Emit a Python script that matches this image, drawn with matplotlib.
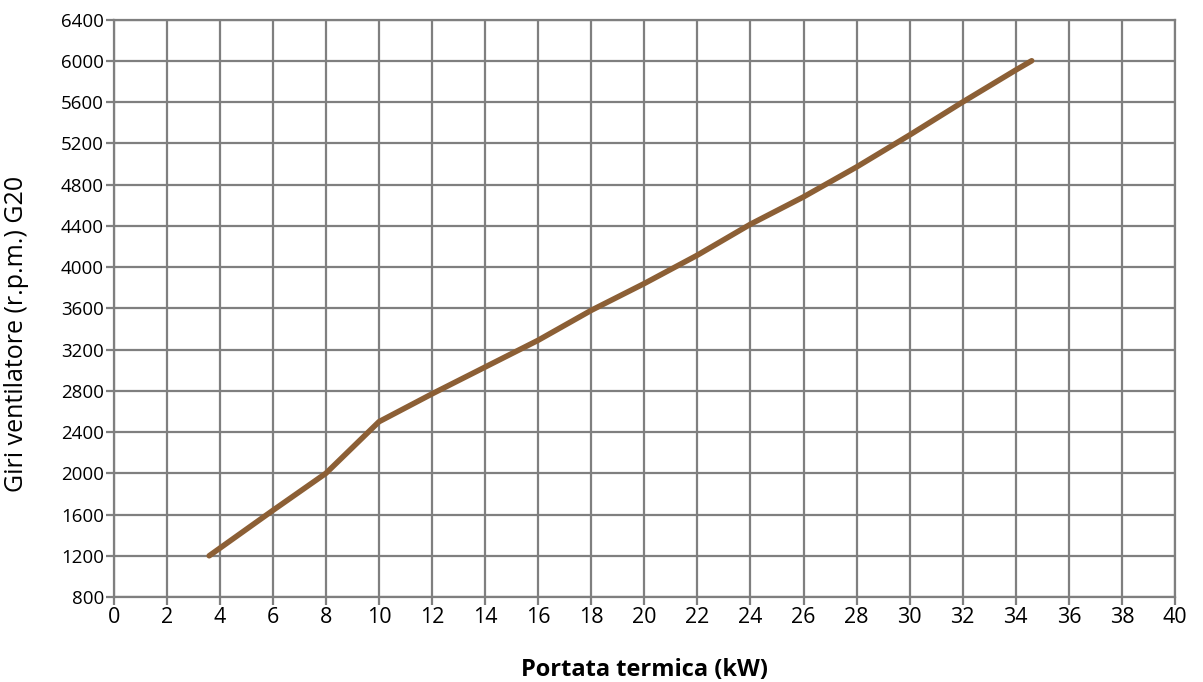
import numpy as np
import matplotlib.pyplot as plt

# Fan speed vs heat input
portata = [3.6, 6, 8, 10, 12, 14, 16, 18, 20, 22, 24, 26, 28, 30, 32, 34, 34.6]
giri = [1200, 1640, 2000, 2500, 2770, 3030, 3290, 3580, 3840, 4115, 4415,
        4680, 4970, 5280, 5600, 5910, 6000]

x_ticks = np.arange(0, 41, 2)
y_ticks = np.arange(800, 6401, 400)

plt.rcParams['font.family'] = ['Open Sans', 'DejaVu Sans']

fig = plt.figure(figsize=(12.03, 6.82), dpi=100)
ax = fig.add_axes([0.0945, 0.1246, 0.8822, 0.8468])

ax.plot(portata, giri, color='#8c5f35', linewidth=4, solid_capstyle='round',
        zorder=3)

ax.set_xlim(0, 40)
ax.set_ylim(800, 6400)
ax.set_xticks(x_ticks)
ax.set_yticks(y_ticks)
ax.grid(True, color='#7f7f7f', linewidth=1.6)
ax.set_axisbelow(True)
for s in ax.spines.values():
    s.set_color('#7f7f7f')
    s.set_linewidth(1.6)
ax.tick_params(colors='#7f7f7f', labelcolor='black', length=6, width=1.6)
ax.tick_params(axis='x', pad=1, labelsize=15.5)
ax.tick_params(axis='y', pad=1, labelsize=13.5)

ax.set_xlabel('Portata termica (kW)', fontsize=17, fontweight='bold')
ax.set_ylabel('Giri ventilatore (r.p.m.) G20', fontsize=18)
ax.xaxis.set_label_coords(0.5, -0.105)
ax.yaxis.set_label_coords(-0.08, 0.455)

fig.savefig('out.png', dpi=100)
